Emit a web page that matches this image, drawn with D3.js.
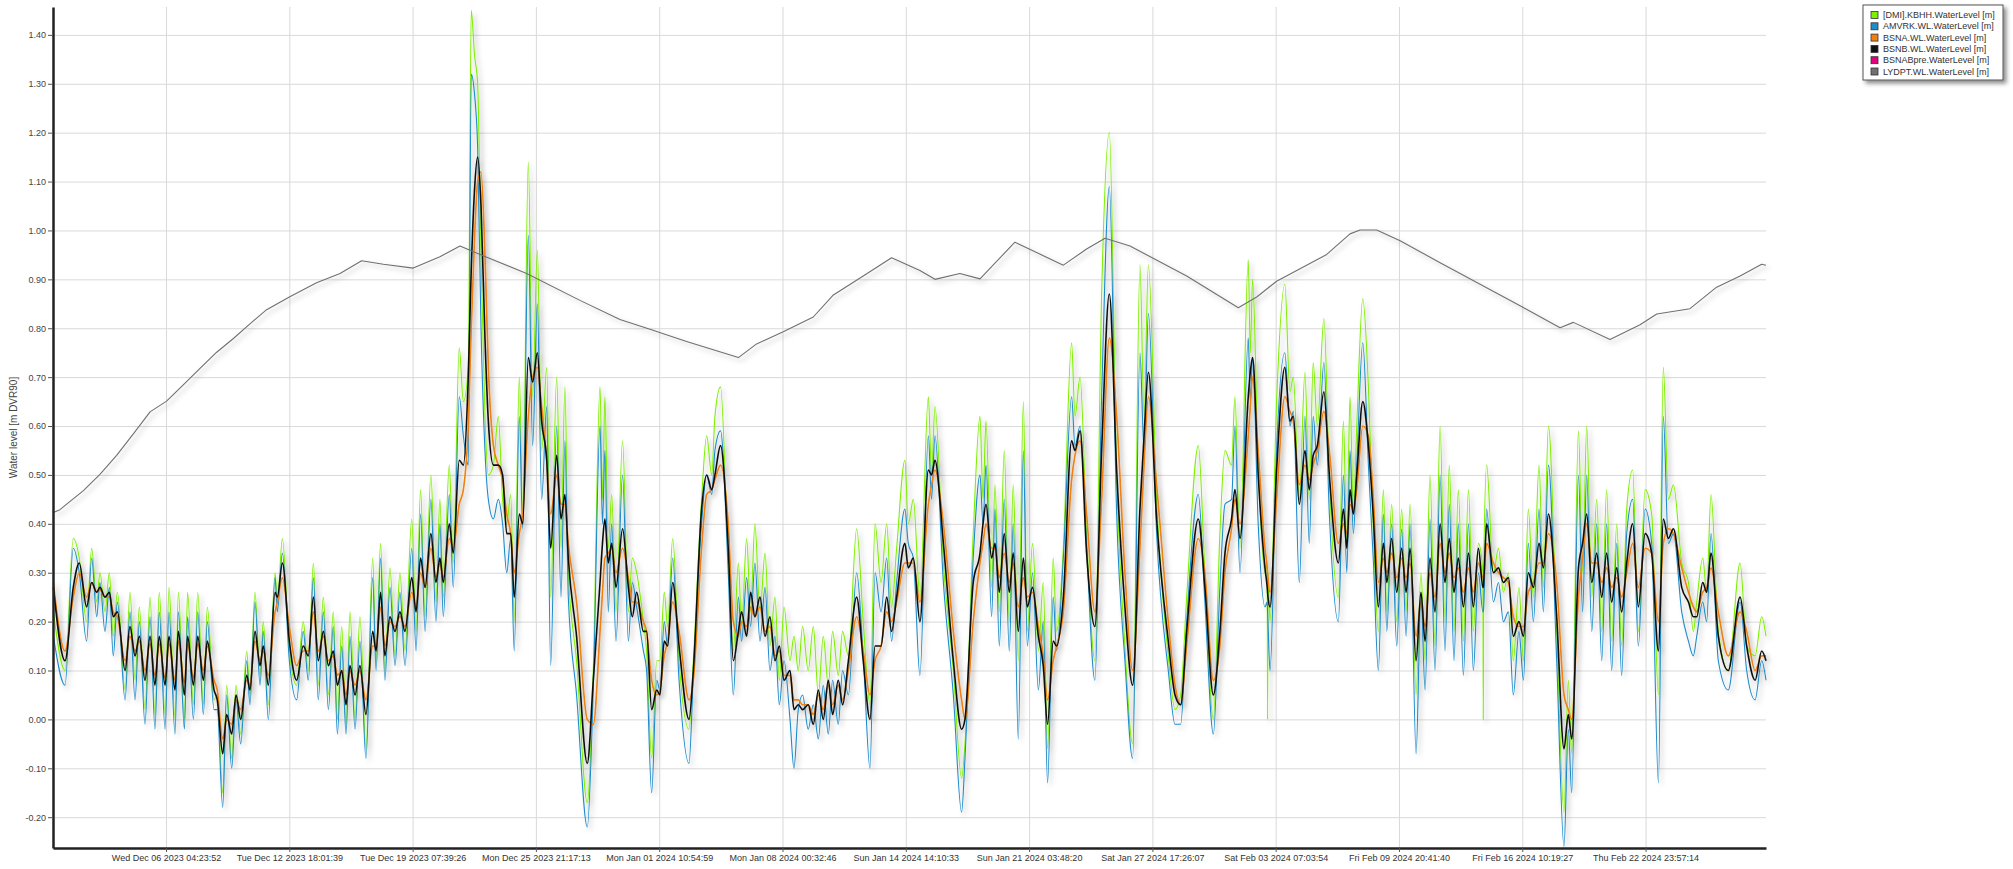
<!DOCTYPE html>
<html>
<head>
<meta charset="utf-8">
<script src="https://cdn.jsdelivr.net/npm/d3@7"></script>
<style>
  body { margin: 0; background: #fff; }
  text { font-family: "Liberation Sans", Arial, sans-serif; }
</style>
</head>
<body>
<div id="chart"></div>
<script>
// Constants for the chart
const CHART_WIDTH = 2013;
const CHART_HEIGHT = 869;
const PLOT = { left: 53, right: 1766, top: 7, bottom: 848 };
const DAY_MS = 24 * 60 * 60 * 1000;

// time range shown on the x axis
const START_TIME = '2023-11-30 03:55:00';
const END_TIME = '2024-02-29 09:55:00';
const Y_MIN = -0.263;
const Y_MAX = 1.457;

const xTickTimes = [
  '2023-12-06 04:23:52', '2023-12-12 18:01:39', '2023-12-19 07:39:26',
  '2023-12-25 21:17:13', '2024-01-01 10:54:59', '2024-01-08 00:32:46',
  '2024-01-14 14:10:33', '2024-01-21 03:48:20', '2024-01-27 17:26:07',
  '2024-02-03 07:03:54', '2024-02-09 20:41:40', '2024-02-16 10:19:27',
  '2024-02-22 23:57:14'
];
const yTickValues = [-0.2, -0.1, 0, 0.1, 0.2, 0.3, 0.4, 0.5, 0.6, 0.7, 0.8, 0.9, 1.0, 1.1, 1.2, 1.3, 1.4];

const seriesNames = [
  '[DMI].KBHH.WaterLevel [m]',
  'AMVRK.WL.WaterLevel [m]',
  'BSNA.WL.WaterLevel [m]',
  'BSNB.WL.WaterLevel [m]',
  'BSNABpre.WaterLevel [m]',
  'LYDPT.WL.WaterLevel [m]'
];

// sample times (days after START_TIME) shared by the tide gauges
const tideDays = [
  0.02, 0.64, 1.08, 1.40, 1.79, 2.06, 2.33, 2.50, 2.77, 3.00,
  3.21, 3.43, 3.84, 4.10, 4.37, 4.60, 4.90, 5.17, 5.43, 5.66,
  5.97, 6.18, 6.50, 6.68, 7.00, 7.17, 7.48, 7.71, 8.01, 8.22,
  8.58, 8.75, 9.04, 9.25, 9.52, 9.75, 10.00, 10.32, 10.49, 10.76,
  11.03, 11.20, 11.47, 11.83, 11.95, 12.22, 12.59, 12.98, 13.33, 13.60,
  13.87, 14.13, 14.40, 14.67, 14.93, 15.15, 15.38, 15.61, 15.82, 16.09,
  16.35, 16.67, 17.03, 17.21, 17.45, 17.68, 17.95, 18.22, 18.48, 18.75,
  19.11, 19.34, 19.58, 19.82, 20.13, 20.40, 20.61, 20.79, 21.11, 21.32,
  21.64, 21.86, 22.12, 22.28, 22.45, 22.62, 22.80, 23.01, 23.19, 23.46,
  23.72, 23.95, 24.17, 24.38, 24.57, 24.84, 25.02, 25.32, 25.55, 25.80,
  26.03, 26.30, 26.51, 26.83, 27.06, 27.27, 27.45, 27.89, 28.46, 28.78,
  29.14, 29.27, 29.40, 29.58, 29.76, 29.99, 30.34, 30.65, 30.86, 31.09, 31.45,
  31.62, 31.89, 32.16, 32.33, 32.56, 32.74, 33.01, 33.35, 33.88, 34.11,
  34.55, 34.82, 35.09, 35.26, 35.56, 35.97, 36.24, 36.51, 36.68, 36.95,
  37.16, 37.39, 37.66, 37.93, 38.19, 38.46, 38.69, 38.94, 39.26, 39.47,
  39.70, 39.93, 40.23, 40.50, 40.77, 41.03, 41.30, 41.53, 41.83, 42.06,
  42.37, 42.81, 43.16, 43.52, 43.79, 44.11, 44.41, 44.67, 44.94, 45.38,
  45.56, 45.83, 46.18, 46.63, 46.80, 46.98, 47.43, 47.96, 48.40, 48.58, 49.02,
  49.38, 49.54, 49.70, 50.00, 50.18, 50.41, 50.67, 50.94, 51.15, 51.42, 51.69,
  51.90, 52.18, 52.49, 52.75, 52.98, 53.28, 53.46, 53.82, 54.26, 54.44,
  54.71, 55.06, 55.50, 55.86, 56.27, 56.66, 57.10, 57.51, 57.90, 58.12, 58.35,
  58.79, 59.41, 59.77, 60.07, 60.39, 61.01, 61.36, 61.81, 62.16, 62.43,
  62.78, 62.96, 63.23, 63.67, 63.78, 63.90, 64.20, 64.56, 64.68, 64.70, 64.72,
  64.83, 65.18, 65.62, 65.89, 66.07, 66.39, 66.69, 66.92, 67.13, 67.35,
  67.70, 67.99, 68.47, 68.74, 68.92, 69.09, 69.27, 69.45, 69.77, 70.07,
  70.34, 70.60, 70.87, 71.05, 71.31, 71.58, 71.84, 72.08, 72.29, 72.61,
  72.87, 73.09, 73.35, 73.62, 73.89, 74.15, 74.38, 74.63, 74.86, 75.13,
  75.40, 75.66, 75.93, 76.17, 76.19, 76.21, 76.37, 76.73, 77.00, 77.26,
  77.53, 77.79, 78.09, 78.33, 78.59, 78.86, 79.16, 79.39, 79.66, 80.10,
  80.49, 80.72, 80.90, 81.26, 81.48, 81.70, 81.97, 82.23, 82.50, 82.76, 83.03,
  83.30, 83.56, 83.83, 84.15, 84.45, 84.81, 85.16, 85.52, 85.78, 86.05,
  86.32, 86.76, 87.12, 87.38, 87.56, 87.88, 88.09, 88.32, 88.71, 89.24,
  89.87, 90.22, 90.67, 91.02, 91.25
];

// [DMI].KBHH
const kbhhLevels = [
  .22, .10, .37, .33, .20, .35, .24, .30, .22, .30,
  .17, .26, .06, .26, .08, .23, .02, .25, .01, .26,
  .01, .27, .00, .26, .00, .26, .03, .26, .03, .23,
  .04, .05, -.15, .07, -.08, .07, -.03, .14, .05, .26,
  .09, .20, .03, .30, .24, .37, .14, .07, .20, .10,
  .32, .07, .25, .05, .22, .00, .19, -.01, .22, .00,
  .21, -.06, .33, .12, .36, .10, .31, .13, .30, .14,
  .41, .18, .47, .21, .50, .24, .45, .25, .52, .32,
  .76, .65, .72, 1.45, 1.36, 1.30, .95, .62, .50, .52,
  .62, .45, .40, .46, .20, .70, .42, 1.14, .66, .96,
  .55, .72, .25, .70, .35, .68, .30, .12, -.17, .10,
  .68, .45, .66, .35, .46, .22, .57, .22, .33, .30, .20,
  .14, -.08, .12, .12, .26, .19, .37, .12, -.02, .12,
  .45, .58, .50, .62, .68, .32, .14, .32, .19, .37,
  .22, .40, .22, .34, .15, .25, .08, .23, .12, .17,
  .10, .19, .10, .19, .05, .17, .07, .18, .09, .18,
  .13, .39, .20, .03, .40, .28, .40, .23, .35, .53,
  .40, .45, .25, .66, .50, .64, .32, .10, -.12, -.05, .38,
  .62, .45, .61, .27, .48, .22, .55, .20, .48, .12, .65,
  .18, .36, .14, .28, -.06, .33, .18, .35, .77, .62,
  .70, .38, .12, .87, 1.20, .50, .15, -.05, .93, .62, .93,
  .45, .13, .02, .05, .25, .56, .30, .00, .38, .55,
  .52, .66, .35, .94, .75, .90, .52, .30, .32, .00, .30,
  .20, .65, .89, .67, .70, .45, .71, .45, .73, .60,
  .82, .49, .25, .61, .35, .66, .42, .60, .86, .68,
  .38, .18, .47, .22, .44, .20, .43, .22, .44, .05,
  .30, .12, .50, .15, .60, .20, .52, .18, .47, .16,
  .47, .18, .36, .30, .00, .30, .52, .30, .35, .26,
  .30, .12, .27, .12, .43, .25, .52, .27, .60, .18,
  -.19, .08, -.07, .59, .30, .60, .25, .45, .18, .47, .16,
  .40, .15, .43, .51, .18, .47, .42, .05, .72, .45,
  .48, .32, .28, .18, .24, .33, .26, .46, .18, .10,
  .32, .15, .13, .21, .17
];

// AMVRK
const amvrkLevels = [
  .17, .07, .35, .30, .16, .33, .21, .28, .18, .27,
  .13, .24, .04, .22, .04, .20, -.01, .21, -.02, .22,
  -.02, .22, -.03, .22, -.02, .21, .00, .22, .01, .20,
  .02, .02, -.18, .05, -.10, .04, -.05, .12, .03, .24,
  .07, .18, .00, .29, .22, .34, .12, .04, .18, .08,
  .29, .04, .22, .02, .19, -.03, .15, -.03, .17, -.02,
  .16, -.08, .29, .10, .33, .08, .27, .11, .26, .11,
  .35, .14, .42, .18, .45, .20, .40, .21, .46, .27,
  .66, .58, .52, 1.32, 1.28, 1.17, .80, .55, .45, .41,
  .45, .40, .30, .37, .14, .62, .39, .99, .56, .85,
  .45, .64, .11, .60, .25, .57, .25, .05, -.22, .06,
  .60, .40, .55, .22, .40, .16, .50, .16, .28, .23, .14,
  .10, -.15, .08, .06, .20, .15, .33, .08, -.09, .09,
  .40, .50, .46, .55, .59, .30, .05, .25, .16, .29,
  .19, .32, .16, .27, .10, .17, .03, .12, .00, -.10,
  .02, .05, -.02, .03, -.04, .07, -.03, .08, -.01, .10,
  .05, .30, .13, -.10, .30, .22, .33, .16, .28, .43,
  .36, .33, .09, .58, .45, .58, .28, .05, -.19, -.08, .33,
  .50, .40, .52, .21, .43, .15, .45, .14, .40, -.04, .55,
  .15, .30, .06, .20, -.13, .25, .14, .33, .66, .56,
  .60, .35, .08, .66, 1.09, .42, .12, -.08, .75, .55, .83,
  .38, .10, -.01, -.01, .20, .46, .24, -.03, .27, .44,
  .45, .60, .30, .78, .65, .74, .40, .23, .24, .22, .20,
  .10, .55, .75, .60, .63, .28, .62, .36, .62, .52,
  .73, .42, .20, .50, .30, .55, .38, .52, .77, .52,
  .32, .10, .42, .18, .40, .15, .39, .17, .40, -.07,
  .25, .06, .41, .10, .50, .14, .44, .12, .40, .09,
  .40, .10, .30, .22, .22, .23, .43, .24, .28, .20,
  .22, .05, .18, .08, .36, .20, .43, .22, .52, .12,
  -.26, -.02, -.15, .50, .22, .50, .18, .40, .12, .40, .10,
  .36, .09, .38, .45, .15, .43, .36, -.13, .62, .36,
  .38, .22, .16, .13, .17, .24, .20, .38, .12, .06,
  .24, .10, .04, .12, .08
];

// BSNA
const bsnaLevels = [
  .28, .14, .25, .30, .25, .28, .26, .265, .25, .25,
  .22, .21, .12, .17, .14, .16, .10, .155, .09, .155,
  .085, .155, .08, .16, .075, .155, .085, .155, .10, .15,
  .08, .06, -.04, .00, -.01, .04, .02, .08, .07, .16,
  .12, .14, .09, .22, .24, .29, .19, .11, .14, .14,
  .22, .14, .17, .12, .13, .09, .10, .05, .10, .07,
  .10, .04, .15, .15, .23, .15, .20, .19, .21, .19,
  .26, .23, .30, .27, .35, .29, .32, .29, .37, .35,
  .44, .47, .60, .80, .98, 1.10, 1.12, .95, .72, .56,
  .52, .49, .42, .38, .30, .38, .42, .62, .70, .72,
  .64, .53, .42, .50, .44, .44, .36, .24, .00, -.01,
  .18, .26, .33, .34, .35, .30, .35, .29, .24, .24, .20,
  .18, .08, .05, .06, .13, .16, .24, .18, .04, .08,
  .35, .46, .47, .49, .52, .40, .20, .17, .20, .19,
  .23, .21, .23, .18, .19, .13, .14, .09, .09, .04,
  .04, .03, .03, .01, .05, .02, .07, .03, .07, .04,
  .10, .21, .14, .05, .12, .15, .22, .20, .24, .32,
  .32, .32, .24, .44, .48, .51, .40, .18, .04, .00, .20,
  .32, .36, .40, .35, .35, .29, .34, .28, .32, .23, .29,
  .25, .26, .19, .13, .04, .12, .15, .22, .49, .54,
  .57, .42, .22, .45, .78, .62, .30, .10, .35, .52, .66,
  .48, .20, .07, .03, .15, .37, .30, .08, .15, .30,
  .39, .45, .40, .58, .64, .70, .55, .35, .31, .30, .29,
  .26, .45, .66, .63, .61, .48, .52, .49, .52, .55,
  .63, .55, .36, .40, .38, .44, .43, .47, .60, .58,
  .45, .28, .33, .30, .34, .29, .33, .29, .32, .17,
  .24, .19, .30, .25, .36, .30, .34, .29, .31, .26,
  .31, .26, .32, .29, .29, .29, .36, .32, .30, .29,
  .28, .21, .19, .19, .26, .28, .32, .32, .38, .28,
  .05, .02, .00, .25, .33, .40, .32, .32, .28, .31, .27,
  .29, .25, .30, .36, .27, .35, .34, .20, .36, .39,
  .38, .31, .26, .23, .22, .26, .27, .31, .22, .13,
  .22, .18, .10, .13, .13
];

// BSNB
const bsnbLevels = [
  .27, .12, .27, .32, .23, .28, .26, .27, .25, .26,
  .21, .22, .10, .19, .13, .17, .08, .17, .07, .17,
  .07, .17, .06, .18, .05, .17, .07, .17, .08, .16,
  .06, .04, -.07, .01, -.03, .05, .00, .09, .06, .18,
  .11, .15, .07, .26, .25, .32, .16, .08, .15, .13,
  .25, .12, .18, .11, .14, .07, .10, .03, .11, .05,
  .11, .01, .18, .14, .26, .13, .21, .18, .22, .18,
  .29, .22, .33, .27, .38, .28, .33, .28, .40, .34,
  .53, .52, .70, .92, 1.08, 1.15, 1.05, .78, .61, .52,
  .52, .50, .38, .38, .25, .42, .40, .74, .69, .75,
  .61, .53, .35, .54, .41, .46, .33, .17, -.09, .08,
  .28, .36, .41, .32, .36, .27, .39, .27, .21, .26, .18,
  .18, .02, .06, .05, .16, .15, .28, .15, .00, .10,
  .43, .50, .47, .50, .56, .35, .12, .18, .22, .17,
  .26, .21, .25, .17, .21, .12, .15, .08, .10, .02,
  .03, .02, .03, -.01, .06, .00, .08, .01, .08, .03,
  .12, .25, .12, .00, .15, .15, .25, .18, .25, .36,
  .31, .33, .20, .51, .50, .53, .36, .12, -.02, .00, .28,
  .34, .40, .44, .33, .36, .26, .38, .26, .34, .18, .33,
  .23, .27, .17, .11, -.01, .16, .15, .25, .57, .55,
  .59, .34, .19, .55, .87, .51, .23, .07, .43, .58, .71,
  .41, .16, .05, .03, .18, .41, .27, .05, .18, .34,
  .41, .47, .37, .66, .71, .74, .50, .31, .27, .26, .25,
  .23, .51, .72, .61, .62, .44, .55, .47, .54, .56,
  .67, .50, .32, .43, .35, .47, .42, .50, .65, .56,
  .41, .23, .36, .28, .37, .26, .35, .26, .35, .12,
  .26, .16, .33, .22, .40, .28, .37, .26, .33, .23,
  .34, .23, .35, .27, .27, .28, .40, .30, .31, .28,
  .29, .17, .20, .17, .30, .27, .36, .31, .42, .21,
  -.06, .01, -.04, .31, .36, .42, .28, .34, .25, .34, .24,
  .31, .22, .32, .40, .23, .38, .34, .14, .41, .37,
  .39, .27, .24, .21, .21, .28, .26, .34, .17, .10,
  .25, .15, .08, .14, .12
];

// BSNABpre has no readings in this period
const bsnabpreDays = [];
const bsnabpreLevels = [];

// LYDPT
const lydptDays = [
  0.02, 0.37, 0.91, 1.62, 2.50, 3.39, 4.28, 5.17, 6.05, 6.94,
  7.83, 8.72, 9.61, 10.49, 11.38, 12.59, 14.04, 15.29, 16.44, 17.60,
  19.19, 20.61, 21.68, 22.75, 25.23, 28.07, 30.20, 31.80, 33.75, 36.51,
  37.48, 38.90, 40.50, 41.57, 43.16, 44.67, 46.18, 46.98, 48.31, 49.38,
  51.24, 53.82, 55.06, 56.04, 57.37, 60.39, 63.14, 64.12, 65.18, 67.85,
  69.09, 69.63, 70.51, 71.76, 73.89, 78.15, 80.28, 80.99, 82.94, 84.54,
  85.43, 87.20, 88.62, 89.87, 91.02, 91.25
];
const lydptLevels = [
  .423, .429, .446, .468, .501, .540, .584, .629, .651, .684,
  .718, .751, .779, .809, .838, .864, .893, .912, .938, .931,
  .923, .946, .968, .951, .912, .857, .818, .798, .773, .740,
  .768, .793, .823, .868, .907, .944, .918, .900, .912, .901,
  .976, .929, .962, .984, .968, .907, .842, .864, .896, .951,
  .993, 1.001, 1.001, .979, .934, .846, .801, .812, .777, .807,
  .829, .840, .884, .907, .931, .929
];

const SERIES_STYLE = [
  { color: '#7ef000', width: 1.1 },
  { color: '#1f8bcb', width: 1.1 },
  { color: '#f07f12', width: 1.6 },
  { color: '#111111', width: 1.6 },
  { color: '#e6007e', width: 1.1 },
  { color: '#707070', width: 1.1 }
];

setup();

function setup () {
  var parseTime = d3.timeParse('%Y-%m-%d %H:%M:%S');
  var start = parseTime(START_TIME);

  var xScale = d3.scaleTime()
    .domain([start, parseTime(END_TIME)])
    .range([PLOT.left, PLOT.right]);

  var yScale = d3.scaleLinear()
    .domain([Y_MIN, Y_MAX])
    .range([PLOT.bottom, PLOT.top]);

  var svg = d3.select('#chart')
    .append('svg')
    .attr('width', CHART_WIDTH)
    .attr('height', CHART_HEIGHT);

  var defs = svg.append('defs');
  defs.append('filter')
    .attr('id', 'lineShadow')
    .attr('x', '-5%').attr('y', '-5%')
    .attr('width', '110%').attr('height', '110%')
    .append('feDropShadow')
    .attr('dx', 3).attr('dy', 3)
    .attr('stdDeviation', 2.5)
    .attr('flood-color', '#000')
    .attr('flood-opacity', 0.28);
  defs.append('filter')
    .attr('id', 'boxShadow')
    .attr('x', '-10%').attr('y', '-10%')
    .attr('width', '130%').attr('height', '140%')
    .append('feDropShadow')
    .attr('dx', 3).attr('dy', 3)
    .attr('stdDeviation', 2)
    .attr('flood-color', '#000')
    .attr('flood-opacity', 0.45);

  // Grid lines
  svg.append('g')
    .attr('class', 'yGrid')
    .attr('transform', `translate(${PLOT.left}, 0)`)
    .call(d3.axisLeft(yScale)
      .tickValues(yTickValues)
      .tickSize(-(PLOT.right - PLOT.left))
      .tickFormat(''))
    .call(g => g.select('.domain').remove())
    .selectAll('line')
    .attr('stroke', '#d9d9d9');

  svg.append('g')
    .attr('class', 'xGrid')
    .attr('transform', `translate(0, ${PLOT.bottom})`)
    .call(d3.axisBottom(xScale)
      .tickValues(xTickTimes.map(parseTime))
      .tickSize(-(PLOT.bottom - PLOT.top))
      .tickFormat(''))
    .call(g => g.select('.domain').remove())
    .selectAll('line')
    .attr('stroke', '#d9d9d9');

  // Series
  var toDate = d => new Date(start.getTime() + d * DAY_MS);
  var allSeries = [
    { days: tideDays, levels: kbhhLevels },
    { days: tideDays, levels: amvrkLevels },
    { days: tideDays, levels: bsnaLevels },
    { days: tideDays, levels: bsnbLevels },
    { days: bsnabpreDays, levels: bsnabpreLevels },
    { days: lydptDays, levels: lydptLevels }
  ];

  allSeries.forEach((s, i) => {
    if (s.days.length !== s.levels.length) {
      console.log(`series ${i}: ${s.days.length} days, ${s.levels.length} levels`);
    }
  });

  var tideLine = d3.line()
    .x(d => xScale(d.time))
    .y(d => yScale(d.value))
    .curve(d3.curveMonotoneX);

  var plainLine = d3.line()
    .x(d => xScale(d.time))
    .y(d => yScale(d.value));

  var lines = svg.append('g')
    .attr('class', 'series')
    .attr('filter', 'url(#lineShadow)');

  allSeries.forEach((s, i) => {
    if (s.levels.length === 0) return;
    var points = s.levels.map((v, j) => ({ time: toDate(s.days[j]), value: v }));
    lines.append('path')
      .datum(points)
      .attr('fill', 'none')
      .attr('stroke', SERIES_STYLE[i].color)
      .attr('stroke-width', SERIES_STYLE[i].width)
      .attr('stroke-linejoin', 'round')
      .attr('d', i === 5 ? plainLine : tideLine);
  });

  // Axes
  var yAxis = d3.axisLeft(yScale)
    .tickValues(yTickValues)
    .tickSize(5)
    .tickSizeOuter(0)
    .tickPadding(2)
    .tickFormat(d => d.toFixed(2));

  svg.append('g')
    .attr('class', 'yAxis')
    .attr('transform', `translate(${PLOT.left}, 0)`)
    .call(yAxis)
    .call(g => g.select('.domain').attr('stroke', '#222').attr('stroke-width', 2.5))
    .call(g => g.selectAll('.tick line').attr('stroke', '#555'))
    .call(g => g.selectAll('text').attr('fill', '#444').style('font-size', '9px'));

  var xAxis = d3.axisBottom(xScale)
    .tickValues(xTickTimes.map(parseTime))
    .tickSize(4)
    .tickSizeOuter(0)
    .tickPadding(3)
    .tickFormat(d3.timeFormat('%a %b %d %Y %H:%M:%S'));

  svg.append('g')
    .attr('class', 'xAxis')
    .attr('transform', `translate(0, ${PLOT.bottom})`)
    .call(xAxis)
    .call(g => g.select('.domain').attr('stroke', '#222').attr('stroke-width', 2.5))
    .call(g => g.selectAll('.tick line').attr('stroke', '#555'))
    .call(g => g.selectAll('text').attr('fill', '#333').style('font-size', '9px'));

  svg.append('text')
    .attr('transform', `translate(17, ${(PLOT.top + PLOT.bottom) / 2}) rotate(-90)`)
    .attr('text-anchor', 'middle')
    .attr('fill', '#444')
    .style('font-size', '10px')
    .text('Water level [m DVR90]');

  // Legend
  var legend = svg.append('g')
    .attr('class', 'legend')
    .attr('transform', 'translate(1863, 5)');

  legend.append('rect')
    .attr('width', 140)
    .attr('height', 75)
    .attr('fill', '#fff')
    .attr('stroke', '#555')
    .attr('filter', 'url(#boxShadow)');

  var items = legend.selectAll('g.item')
    .data(seriesNames)
    .join('g')
    .attr('class', 'item')
    .attr('transform', (d, i) => `translate(8, ${10 + i * 11.3})`);

  items.append('rect')
    .attr('x', 0)
    .attr('y', -3.5)
    .attr('width', 7)
    .attr('height', 7)
    .attr('fill', (d, i) => SERIES_STYLE[i].color)
    .attr('stroke', '#333')
    .attr('stroke-width', 0.8);

  items.append('text')
    .attr('x', 12)
    .attr('dy', '0.35em')
    .attr('fill', '#333')
    .style('font-size', '9px')
    .text(d => d);
}
</script>
</body>
</html>
